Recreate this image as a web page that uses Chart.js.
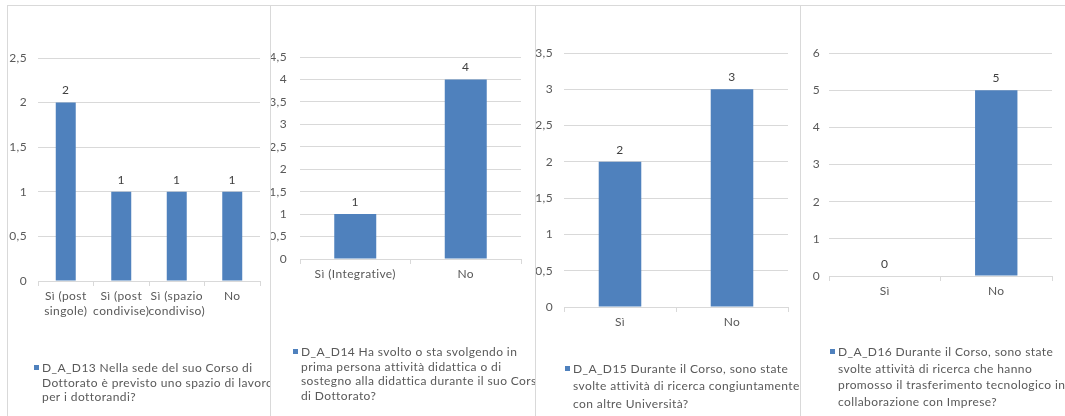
<!DOCTYPE html>
<html>
<head>
<meta charset="utf-8">
<script src="https://cdn.jsdelivr.net/npm/chart.js@4"></script>
<style>
  html, body { margin: 0; padding: 0; background: #fff; width: 1065px; height: 416px; overflow: hidden; position: relative; }
  .panel { position: absolute; top: 5px; width: 300px; height: 430px; border: 1px solid #d9d9d9; background: #fff; overflow: hidden; box-sizing: border-box; }
  .panel canvas { position: absolute; left: 0; top: 0; }
</style>
</head>
<body>
<div class="panel" style="left:7px; z-index:1"><canvas id="c13" width="298" height="412"></canvas></div>
<div class="panel" style="left:270px; z-index:2"><canvas id="c14" width="298" height="412"></canvas></div>
<div class="panel" style="left:535px; z-index:3"><canvas id="c15" width="298" height="412"></canvas></div>
<div class="panel" style="left:800px; z-index:4"><canvas id="c16" width="298" height="412"></canvas></div>
<script>
const cats13 = [['Sì (post', 'singole)'], ['Sì (post', 'condivise)'], ['Sì (spazio', 'condiviso)'], 'No'];
const vals13 = [2, 1, 1, 1];
const legend13 = ['D_A_D13 Nella sede del suo Corso di', 'Dottorato è previsto uno spazio di lavoro', 'per i dottorandi?'];

const cats14 = ['Sì (Integrative)', 'No'];
const vals14 = [1, 4];
const legend14 = ['D_A_D14 Ha svolto o sta svolgendo in', 'prima persona attività didattica o di', 'sostegno alla didattica durante il suo Corso', 'di Dottorato?'];

const cats15 = ['Sì', 'No'];
const vals15 = [2, 3];
const legend15 = ['D_A_D15 Durante il Corso, sono state', 'svolte attività di ricerca congiuntamente', 'con altre Università?'];

const cats16 = ['Sì', 'No'];
const vals16 = [0, 5];
const legend16 = ['D_A_D16 Durante il Corso, sono state', 'svolte attività di ricerca che hanno', 'promosso il trasferimento tecnologico in', 'collaborazione con Imprese?'];

const yMax = [2.5, 4.5, 3.5, 6];
const yStep = [0.5, 0.5, 0.5, 1];

const BLUE = '#4f81bd';
const GRID = '#d9d9d9';
const TEXT = '#595959';
const FONT = 'Lato';
const SPACING = '0.4px';

// excel text is a bit more spread out than Lato
const spacing = {
  id: 'spacing',
  beforeUpdate(chart) { chart.ctx.letterSpacing = SPACING; },
  beforeDraw(chart) { chart.ctx.letterSpacing = SPACING; }
};

// numbers above the bars
const valueLabels = {
  id: 'valueLabels',
  afterDatasetsDraw(chart) {
    const ctx = chart.ctx;
    const vals = chart.data.datasets[0].data;
    ctx.save();
    ctx.font = '12px ' + FONT;
    ctx.fillStyle = '#404040';
    ctx.textAlign = 'center';
    ctx.textBaseline = 'bottom';
    chart.getDatasetMeta(0).data.forEach((bar, i) => {
      ctx.fillText(String(vals[i]), bar.x, bar.y - 6);
    });
    ctx.restore();
  }
};

// legend with wrapped text, like the excel one
const wrapLegend = {
  id: 'wrapLegend',
  afterDraw(chart, args, o) {
    const ctx = chart.ctx;
    ctx.save();
    ctx.font = o.size + 'px ' + FONT;
    ctx.fillStyle = TEXT;
    ctx.textAlign = 'left';
    ctx.textBaseline = 'middle';
    o.lines.forEach((t, i) => ctx.fillText(t, o.x, o.y + i * o.lh));
    ctx.fillStyle = BLUE;
    ctx.fillRect(o.x - 8, o.y - 3, 5, 5);
    ctx.restore();
  }
};

function makeChart(id, ox, oy, area, labels, values, max, step, lines, lg, barPct) {
  const canvas = document.getElementById(id);
  const W = canvas.width, H = canvas.height;
  const xH = 45;
  return new Chart(canvas, {
    type: 'bar',
    data: {
      labels: labels,
      datasets: [{ data: values, backgroundColor: BLUE, barPercentage: barPct, categoryPercentage: 1 }]
    },
    options: {
      responsive: false,
      animation: false,
      layout: {
        padding: { left: 0, top: area.t - oy, right: W - (area.r - ox), bottom: H - (area.b - oy) - xH }
      },
      plugins: {
        legend: { display: false },
        tooltip: { enabled: false },
        wrapLegend: { lines: lines, x: lg.x - ox, y: lg.y - oy, lh: lg.lh, size: lg.size }
      },
      scales: {
        x: {
          grid: { offset: true, drawOnChartArea: false, tickLength: 5, color: GRID },
          border: { color: GRID },
          ticks: { maxRotation: 0, autoSkip: false, padding: 3, color: TEXT, font: { family: FONT, size: 12, lineHeight: 1.25 } },
          afterFit: s => { s.height = xH; }
        },
        y: {
          min: 0,
          max: max,
          grid: { color: GRID, drawTicks: false },
          border: { display: false },
          ticks: {
            stepSize: step,
            padding: area.gap,
            color: TEXT,
            font: { family: FONT, size: 12 },
            callback: v => String(v).replace('.', ',')
          },
          afterFit: s => { s.width = area.l - ox; }
        }
      }
    },
    plugins: [spacing, valueLabels, wrapLegend]
  });
}

makeChart('c13', 8, 6, { l: 38, r: 260, t: 58, b: 281, gap: 11 }, cats13, vals13, yMax[0], yStep[0], legend13,
  { x: 42, y: 368, lh: 14.8, size: 12 }, 0.36);
makeChart('c14', 271, 6, { l: 300, r: 521, t: 57, b: 259, gap: 13 }, cats14, vals14, yMax[1], yStep[1], legend14,
  { x: 301, y: 352, lh: 14.7, size: 12 }, 0.38);
makeChart('c15', 536, 6, { l: 564, r: 788, t: 53, b: 307, gap: 11 }, cats15, vals15, yMax[2], yStep[2], legend15,
  { x: 573, y: 369, lh: 17.5, size: 12 }, 0.38);
makeChart('c16', 801, 6, { l: 829, r: 1052, t: 53, b: 276, gap: 9 }, cats16, vals16, yMax[3], yStep[3], legend16,
  { x: 838, y: 352, lh: 16.7, size: 12 }, 0.38);
</script>
</body>
</html>
